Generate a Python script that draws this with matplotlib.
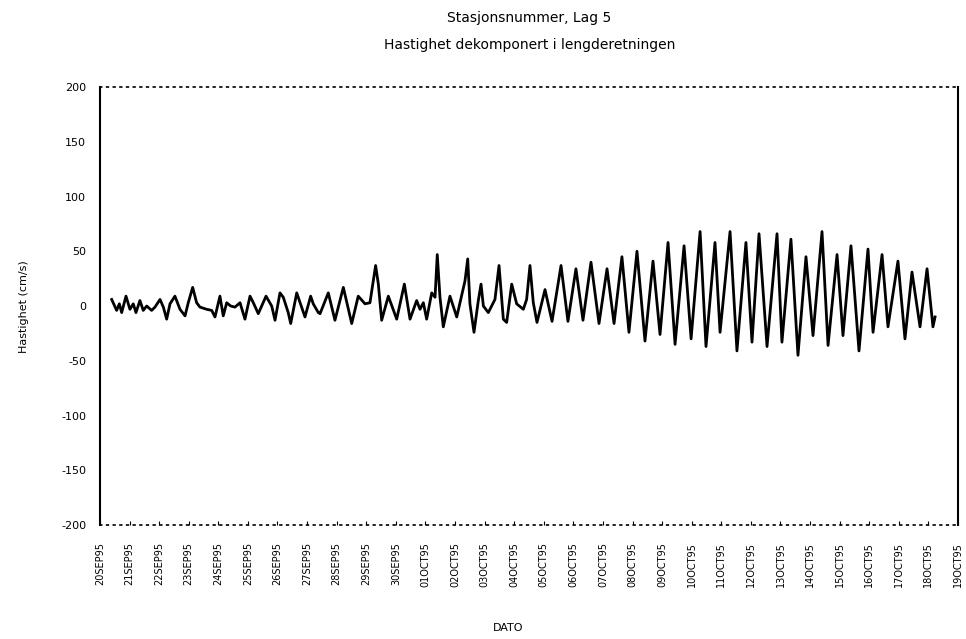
import matplotlib
matplotlib.use("Agg")
from matplotlib import pyplot as plt
import numpy as np
import datetime as dt

# timer etter start (00:00 første dag) og hastighet (cm/s)
timer = [
    9.5, 13.5, 15.7, 17.6, 21.1, 24.3, 27.0, 29.2, 32.4, 35.1,
    37.9, 41.9, 44.6, 48.7, 51.4, 54.1, 56.8, 60.8, 64.9, 69.0,
    71.6, 75.2, 78.4, 81.1, 86.6, 90.6, 93.3, 97.3, 100.0, 102.8,
    106.0, 109.5, 113.6, 117.6, 121.7, 124.4, 128.4, 134.7, 139.3, 142.0,
    146.0, 148.7, 152.7, 154.7, 159.6, 163.6, 166.3, 170.9, 173.0, 177.1,
    178.5, 185.2, 190.6, 197.4, 204.2, 209.5, 215.0, 219.0, 223.6, 225.8,
    228.5, 233.9, 240.7, 246.9, 251.5, 256.9, 259.6, 262.3, 265.0, 269.1,
    271.8, 273.6, 275.8, 278.5, 283.9, 289.4, 296.1, 298.3, 300.1, 303.4,
    306.9, 309.1, 311.0, 315.0, 320.4, 323.7, 327.2, 329.9, 334.0, 338.0,
    343.4, 346.1, 348.8, 351.5, 354.5, 361.0, 366.7, 374.0, 379.6, 386.1,
    391.8, 398.3, 404.8, 411.3, 417.0, 423.4, 429.1, 435.6, 442.1, 448.6,
    454.3, 460.8, 466.5, 473.8, 479.5, 486.8, 491.6, 498.9, 503.0, 511.1,
    516.7, 524.0, 528.9, 534.6, 541.1, 549.2, 553.2, 560.5, 566.2, 572.7,
    578.4, 585.7, 590.6, 597.9, 602.7, 609.2, 615.7, 623.0, 627.1, 634.4,
    639.2, 647.3, 653.0, 658.7, 665.2, 670.9, 675.7, 677.4,
]
hastighet = [
    6, -4, 2, -6, 9, -3, 2, -6, 5, -4,
    0, -4, -1, 6, -1, -12, 2, 9, -3, -9,
    3, 17, 3, -1, -3, -4, -10, 9, -9, 3,
    0, -1, 3, -12, 9, 3, -7, 9, 0, -13,
    12, 8, -6, -16, 12, -1, -10, 9, 2, -6,
    -7, 12, -13, 17, -16, 9, 2, 3, 37, 20,
    -13, 9, -12, 20, -12, 5, -3, 3, -12, 12,
    8, 47, 8, -19, 9, -10, 23, 43, 2, -24,
    5, 20, 0, -6, 6, 37, -12, -15, 20, 2,
    -3, 6, 37, 3, -15, 15, -14, 37, -14, 34,
    -13, 40, -16, 34, -16, 45, -24, 50, -32, 41,
    -26, 58, -35, 55, -30, 68, -37, 58, -24, 68,
    -41, 58, -33, 66, -37, 66, -33, 61, -45, 45,
    -27, 68, -36, 47, -27, 55, -41, 52, -24, 47,
    -19, 41, -30, 31, -19, 34, -19, -10,
]

startdato = dt.date(1995, 9, 20)
antall_dager = 30
dato_tekst = [(startdato + dt.timedelta(days=i)).strftime("%d%b%y").upper()
              for i in range(antall_dager)]
y_ticks = [-200, -150, -100, -50, 0, 50, 100, 150, 200]

fig = plt.figure(figsize=(9.66, 6.39), dpi=100)
ax = fig.add_axes([0.1035, 0.1784, 0.8882, 0.6854])

ax.plot(np.array(timer) / 24.0, hastighet, color="black", linewidth=2.0)

ax.set_xlim(0, antall_dager - 1)
ax.set_ylim(-200, 200)
ax.set_xticks(range(antall_dager))
ax.set_xticklabels(dato_tekst, rotation=90, fontsize=7)
ax.set_yticks(y_ticks)
ax.set_yticklabels([str(v) for v in y_ticks], fontsize=8)
ax.tick_params(axis="x", length=3, width=0.8, direction="in", pad=12)
ax.tick_params(axis="y", length=0, pad=10)

# topp og bunn er prikket i originalen
for side in ["top", "bottom"]:
    ax.spines[side].set_linestyle((0, (1, 3)))
    ax.spines[side].set_linewidth(1.2)
for side in ["left", "right"]:
    ax.spines[side].set_linewidth(1.5)

fig.text(0.548, 0.972, "Stasjonsnummer, Lag 5", ha="center", va="center", fontsize=10)
fig.text(0.548, 0.930, "Hastighet dekomponert i lengderetningen", ha="center",
         va="center", fontsize=10)
fig.text(0.025, 0.52, "Hastighet (cm/s)", rotation=90, ha="center", va="center",
         fontsize=8)
fig.text(0.526, 0.017, "DATO", ha="center", va="center", fontsize=8)

fig.savefig("out.png", dpi=100)
